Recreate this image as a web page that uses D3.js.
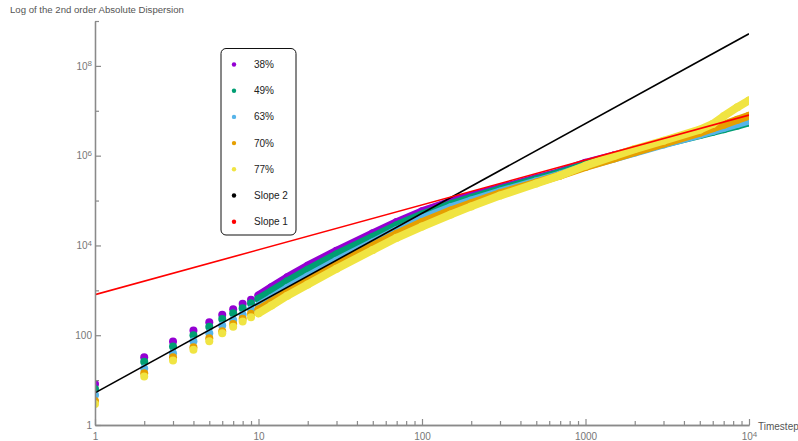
<!DOCTYPE html>
<html>
<head>
<meta charset="utf-8">
<script src="https://cdn.jsdelivr.net/npm/d3@7"></script>
<style>
  body { margin: 0; background: #fff; }
  text { font-family: "Liberation Sans", Arial, sans-serif; }
</style>
</head>
<body>
<svg id="drawing_region"></svg>
<script>
const timesteps = [1, 2, 3, 4, 5, 6, 7, 8, 9, 10, 12, 15, 20, 30, 50, 70, 100, 150, 200, 300,
                   500, 700, 1000, 1500, 2000, 3000, 5000, 6000, 7000, 8500, 10000];

const series_names = ['38%', '49%', '63%', '70%', '77%'];
const series_colors = ['#9400d3', '#009e73', '#56b4e9', '#e69f00', '#f0e442'];

const disp38 = [8.22, 32.4, 72.4, 127, 195, 285, 380, 501, 617, 769, 1175, 1950, 3550, 7590, 18600, 33100,
                57500, 95500, 129000, 191000, 316000, 437000, 692000, 1.02e6, 1.35e6, 2.0e6, 3.24e6, 3.80e6,
                4.47e6, 5.37e6, 6.17e6];
const disp49 = [6.31, 25.5, 56.2, 100, 155, 229, 309, 398, 513, 646, 955, 1585, 2880, 6310, 15500, 28200,
                49000, 83200, 115000, 178000, 295000, 417000, 631000, 933000, 1.23e6, 1.82e6, 2.88e6, 3.39e6,
                3.89e6, 4.68e6, 5.50e6];
const disp63 = [4.68, 18.1, 39.8, 73.8, 111, 164, 219, 285, 372, 453, 676, 1122, 2040, 4570, 11700, 21900,
                39800, 70800, 100000, 158000, 269000, 380000, 575000, 871000, 1.17e6, 1.78e6, 2.95e6, 3.55e6,
                4.17e6, 5.13e6, 6.03e6];
const disp70 = [3.44, 14.3, 32.4, 54.2, 86.1, 123, 178, 234, 302, 372, 550, 912, 1660, 3720, 9770, 18200,
                33100, 60300, 87100, 145000, 251000, 363000, 562000, 871000, 1.20e6, 1.86e6, 3.24e6, 4.07e6,
                4.90e6, 6.31e6, 7.76e6];
const disp77 = [2.95, 12.0, 27.2, 47.2, 73.8, 111, 155, 202, 251, 309, 457, 759, 1350, 3020, 7940, 14800,
                26300, 49000, 74100, 129000, 240000, 363000, 600000, 990000, 1.40e6, 2.15e6, 3.80e6, 5.10e6,
                7.59e6, 1.20e7, 1.70e7];

// reference slope lines, given by their end points
const slope_t = [1, 10000];
const slope2 = [5.2, 5.2e8];
const slope1 = [800, 8e6];

const x_major = [1, 10, 100, 1000, 10000];
const y_major = [1, 100, 1e4, 1e6, 1e8];
const y_minor = [10, 1e3, 1e5, 1e7, 1e9];

const legend_names = ['38%', '49%', '63%', '70%', '77%', 'Slope 2', 'Slope 1'];
const legend_colors = ['#9400d3', '#009e73', '#56b4e9', '#e69f00', '#f0e442', '#000000', '#ff0000'];

const config = {
    width: 798, height: 441,
    plot_left: 95, plot_right: 749, plot_top: 21, plot_bottom: 425
};
const pl = config.plot_left, pr = config.plot_right, pt = config.plot_top, pb = config.plot_bottom;

const svg = d3.select('#drawing_region')
    .attr('width', config.width)
    .attr('height', config.height);

const x = d3.scaleLog().domain([1, 1e4]).range([pl, pr]);
const y = d3.scaleLog().domain([1, 1e9]).range([pb, pt]);

svg.append('clipPath').attr('id', 'plot_clip')
  .append('rect')
    .attr('x', pl).attr('y', 0)
    .attr('width', pr - pl).attr('height', pb);

const plot = svg.append('g').attr('clip-path', 'url(#plot_clip)');

const all_series = [disp38, disp49, disp63, disp70, disp77];
const band_from = 10;   // from here on the markers overlap into a band

const line = d3.line()
    .x(d => x(d.t))
    .y(d => y(d.v));

all_series.forEach((vals, i) => {
    const pts = timesteps.map((t, k) => ({t: t, v: vals[k]}));
    plot.append('path')
        .datum(pts.filter(d => d.t >= band_from))
        .attr('d', line)
        .attr('fill', 'none')
        .attr('stroke', series_colors[i])
        .attr('stroke-width', 8)
        .attr('stroke-linecap', 'round')
        .attr('stroke-linejoin', 'round');
    plot.selectAll(null)
        .data(pts)
        .enter()
        .append('circle')
        .attr('cx', d => x(d.t))
        .attr('cy', d => y(d.v))
        .attr('r', 4)
        .attr('fill', series_colors[i]);
});

// slope lines
[[slope2, '#000000'], [slope1, '#ff0000']].forEach(([vals, col]) => {
    plot.append('path')
        .datum(slope_t.map((t, k) => ({t: t, v: vals[k]})))
        .attr('d', line)
        .attr('fill', 'none')
        .attr('stroke', col)
        .attr('stroke-width', 1.6);
});

// axes
function label_pow(g) {
    g.selectAll('.tick text').each(function(d) {
        const e = Math.round(Math.log10(d));
        if (e <= 3) return;
        const t = d3.select(this).text(null);
        t.append('tspan').text('10');
        t.append('tspan').attr('dy', '-0.45em').style('font-size', '8px').text(e);
    });
}

function style_axis(g) {
    g.select('.domain').attr('stroke', '#8a8a8a').attr('stroke-width', 1.3);
    g.selectAll('.tick line').attr('stroke', '#8a8a8a').attr('stroke-width', 1.2);
    g.selectAll('.tick text').attr('fill', '#777').style('font-size', '10px')
        .style('font-family', '"Liberation Sans", Arial, sans-serif');
}

const x_minor = [];
x_major.slice(0, -1).forEach(b => { for (let k = 2; k <= 9; k++) x_minor.push(b * k); });

svg.append('g')
    .attr('transform', `translate(0,${pb})`)
    .call(d3.axisBottom(x).tickValues(x_minor).tickSize(-4).tickSizeOuter(0).tickFormat(''))
    .call(style_axis);

svg.append('g')
    .attr('transform', `translate(0,${pb})`)
    .call(d3.axisBottom(x).tickValues(x_major).tickSize(-6).tickSizeOuter(0).tickPadding(8)
        .tickFormat(d3.format('d')))
    .call(style_axis)
    .call(label_pow);

svg.append('g')
    .attr('transform', `translate(${pl},0)`)
    .call(d3.axisLeft(y).tickValues(y_minor).tickSize(-4).tickSizeOuter(0).tickFormat(''))
    .call(style_axis);

svg.append('g')
    .attr('transform', `translate(${pl},0)`)
    .call(d3.axisLeft(y).tickValues(y_major).tickSize(-6).tickSizeOuter(0).tickPadding(3)
        .tickFormat(d3.format('d')))
    .call(style_axis)
    .call(label_pow);

svg.append('text')
    .attr('x', 10)
    .attr('y', 13)
    .attr('fill', '#555')
    .style('font-size', '9.6px')
    .text('Log of the 2nd order Absolute Dispersion');

svg.append('text')
    .attr('x', 758)
    .attr('y', 429.5)
    .attr('fill', '#555')
    .style('font-size', '10px')
    .text('Timestep');

// legend
const legend = svg.append('g');
legend.append('rect')
    .attr('x', 221).attr('y', 48.5)
    .attr('width', 75).attr('height', 186.5)
    .attr('rx', 5)
    .attr('fill', '#fff')
    .attr('stroke', '#111')
    .attr('stroke-width', 1);

const items = legend.selectAll('g.item')
    .data(legend_names)
    .enter()
    .append('g')
    .attr('transform', (d, i) => `translate(234,${64.5 + i * 26.2})`);

items.append('circle')
    .attr('r', 2.2)
    .attr('fill', (d, i) => legend_colors[i]);

items.append('text')
    .attr('x', 20)
    .attr('dy', '0.35em')
    .attr('fill', '#222')
    .style('font-size', '10px')
    .text(d => d);
</script>
</body>
</html>
